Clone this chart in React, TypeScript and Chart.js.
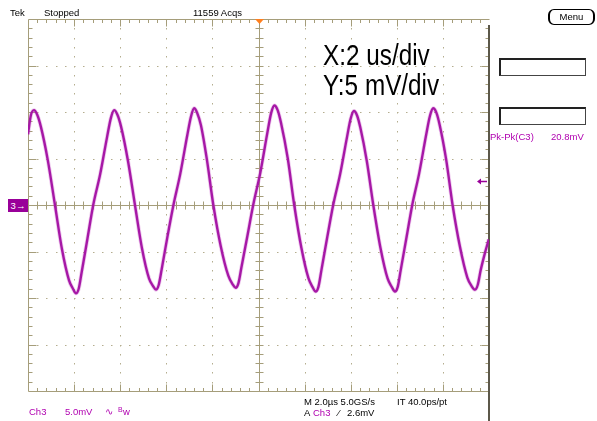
import React, { useEffect, useRef } from "react";
import { Chart, registerables } from "chart.js";

Chart.register(...registerables);

// Time axis (µs, trigger at 0) and Ch3 trace (mV)
const timeUs = [
  -10.0, -9.88, -9.74, -9.6, -9.44, -9.14, -8.83, -8.53, -8.22, -8.05, -7.92, -7.8, -7.67, -7.42, -7.17,
  -6.87, -6.57, -6.4, -6.26, -6.12, -5.96, -5.66, -5.36, -5.06, -4.75, -4.58, -4.45, -4.33, -4.2, -3.95, -3.69,
  -3.39, -3.09, -2.92, -2.79, -2.66, -2.5, -2.24, -1.96, -1.64, -1.31, -1.13, -0.99, -0.87, -0.74, -0.48, -0.23,
  0.08, 0.38, 0.55, 0.69, 0.83, 0.98, 1.27, 1.55, 1.86, 2.17, 2.34, 2.48, 2.6, 2.73, 2.98, 3.24,
  3.54, 3.84, 4.0, 4.14, 4.28, 4.42, 4.7, 4.98, 5.29, 5.6, 5.78, 5.92, 6.04, 6.17, 6.42, 6.67,
  6.97, 7.27, 7.44, 7.58, 7.72, 7.86, 8.14, 8.42, 8.74, 9.06, 9.24, 9.39, 9.51, 9.64, 9.82, 9.99,
];
const traceMv = [
  7.6, 9.6, 10.2, 9.7, 8.4, 4.8, 0.0, -4.7, -8.1, -9.0, -9.5, -9.0, -7.2, -3.6, 0.0,
  3.3, 7.3, 9.4, 10.2, 9.7, 8.4, 4.7, 0.0, -4.6, -7.9, -8.7, -9.1, -8.6, -6.9, -3.4, 0.0,
  3.4, 7.5, 9.6, 10.4, 9.9, 8.6, 4.9, 0.0, -4.4, -7.6, -8.5, -8.9, -8.4, -6.7, -3.3, 0.0,
  3.5, 7.7, 9.9, 10.7, 10.2, 8.8, 5.0, 0.0, -4.6, -7.9, -8.8, -9.3, -8.8, -7.0, -3.5, 0.0,
  3.3, 7.3, 9.3, 10.1, 9.6, 8.3, 4.7, 0.0, -4.6, -7.9, -8.8, -9.3, -8.8, -7.0, -3.5, 0.0,
  3.4, 7.5, 9.6, 10.4, 9.9, 8.6, 4.9, 0.0, -4.5, -7.8, -8.7, -9.1, -8.6, -7.0, -5.2, -3.7,
];

// Scope settings: 2 µs/div, 5 mV/div, 10 x 8 divisions
const timeRangeUs = [-10, 10];
const voltRangeMv = [-20, 20];
const timePerDivUs = 2;
const voltPerDivMv = 5;
const triggerTimeUs = 0;
const triggerLevelMv = 2.6;

const SUB = 5;
const TAN = "#a59d7a";
const DOT = "#b4ad8e";
const PURPLE = "#990099";
const TEXT_PURPLE = "#b000b0";

const graticulePlugin = {
  id: "graticule",
  beforeDatasetsDraw(chart: any) {
    const { ctx, chartArea: a, scales } = chart;
    const xs = scales.x;
    const ys = scales.y;
    const px = (v: number) => Math.round(xs.getPixelForValue(v)) + 0.5;
    const py = (v: number) => Math.round(ys.getPixelForValue(v)) + 0.5;
    const nX = Math.round((timeRangeUs[1] - timeRangeUs[0]) / timePerDivUs);
    const nY = Math.round((voltRangeMv[1] - voltRangeMv[0]) / voltPerDivMv);
    const xAt = (i: number) => timeRangeUs[0] + (i * timePerDivUs) / SUB;
    const yAt = (j: number) => voltRangeMv[0] + (j * voltPerDivMv) / SUB;
    ctx.save();

    // dotted division lines
    ctx.fillStyle = DOT;
    for (let d = 1; d < nX; d++) {
      if (d === nX / 2) continue;
      const x = px(timeRangeUs[0] + d * timePerDivUs);
      for (let j = 1; j < nY * SUB; j++) {
        ctx.fillRect(x - 0.5, py(yAt(j)) - 0.5, 1, 1.5);
      }
    }
    for (let d = 1; d < nY; d++) {
      if (d === nY / 2) continue;
      const y = py(voltRangeMv[0] + d * voltPerDivMv);
      for (let i = 1; i < nX * SUB; i++) {
        ctx.fillRect(px(xAt(i)) - 0.5, y - 0.5, 1.5, 1);
      }
    }

    ctx.strokeStyle = TAN;
    ctx.lineWidth = 1;
    const left = Math.round(a.left) + 0.5;
    const right = Math.round(a.right) + 0.5;
    const top = Math.round(a.top) + 0.5;
    const bottom = Math.round(a.bottom) + 0.5;
    const cx = px(triggerTimeUs);
    const cy = py(0);

    ctx.beginPath();
    ctx.moveTo(left, top); ctx.lineTo(right, top);
    ctx.moveTo(left, bottom); ctx.lineTo(right, bottom);
    ctx.moveTo(left, top); ctx.lineTo(left, bottom);
    ctx.moveTo(left, cy); ctx.lineTo(right, cy);
    ctx.moveTo(cx, top); ctx.lineTo(cx, bottom);

    for (let i = 1; i < nX * SUB; i++) {
      const x = px(xAt(i));
      const major = i % SUB === 0;
      const len = major ? 7 : 3.5;
      ctx.moveTo(x, top); ctx.lineTo(x, top + len);
      ctx.moveTo(x, bottom); ctx.lineTo(x, bottom - len);
      ctx.moveTo(x, cy - 4); ctx.lineTo(x, cy + 4);
    }
    for (let j = 1; j < nY * SUB; j++) {
      const y = py(yAt(j));
      const major = j % SUB === 0;
      const len = major ? 8 : 4;
      ctx.moveTo(left, y); ctx.lineTo(left + len, y);
      ctx.moveTo(right, y); ctx.lineTo(right - len, y);
      ctx.moveTo(cx - 4, y); ctx.lineTo(cx + 4, y);
    }
    ctx.stroke();

    // right border of the graticule
    ctx.strokeStyle = "#5c584a";
    ctx.lineWidth = 2;
    ctx.beginPath();
    ctx.moveTo(Math.round(a.right), a.top + 6);
    ctx.lineTo(Math.round(a.right), chart.height);
    ctx.stroke();

    // trigger position marker (orange)
    ctx.fillStyle = "#ff7f1e";
    ctx.beginPath();
    ctx.moveTo(cx - 4.5, a.top);
    ctx.lineTo(cx + 4.5, a.top);
    ctx.lineTo(cx, a.top + 5);
    ctx.closePath();
    ctx.fill();

    // trigger level marker (purple arrow on the right)
    const ty = py(triggerLevelMv);
    ctx.strokeStyle = PURPLE;
    ctx.fillStyle = PURPLE;
    ctx.lineWidth = 1.5;
    ctx.beginPath();
    ctx.moveTo(a.right - 9, ty);
    ctx.lineTo(a.right - 2, ty);
    ctx.stroke();
    ctx.beginPath();
    ctx.moveTo(a.right - 12, ty);
    ctx.lineTo(a.right - 8, ty - 3);
    ctx.lineTo(a.right - 8, ty + 3);
    ctx.closePath();
    ctx.fill();

    ctx.restore();
  },
};

const small: React.CSSProperties = {
  position: "absolute",
  fontFamily: "'Liberation Sans', Arial, sans-serif",
  fontSize: "9.5px",
  lineHeight: "10px",
  whiteSpace: "nowrap",
  color: "#000",
};

const big: React.CSSProperties = {
  position: "absolute",
  fontFamily: "'Liberation Sans', Arial, sans-serif",
  fontSize: "30px",
  lineHeight: "30px",
  whiteSpace: "nowrap",
  color: "#000",
  transform: "scaleX(0.81)",
  transformOrigin: "left top",
};

const boxStyle: React.CSSProperties = {
  position: "absolute",
  left: 499,
  width: 84,
  height: 15,
  background: "#fff",
  borderTop: "2px solid #222",
  borderLeft: "2px solid #222",
  borderBottom: "1px solid #444",
  borderRight: "1px solid #444",
};

export default function App() {
  const canvasRef = useRef<HTMLCanvasElement | null>(null);

  useEffect(() => {
    const canvas = canvasRef.current;
    if (!canvas) return;
    const points = timeUs.map((t, i) => ({ x: t, y: traceMv[i] }));
    const chart = new Chart(canvas, {
      type: "line",
      data: {
        datasets: [
          {
            data: points,
            borderColor: "rgba(200,80,200,0.3)",
            borderWidth: 4,
            pointRadius: 0,
            cubicInterpolationMode: "monotone",
            fill: false,
          },
          {
            data: points,
            borderColor: PURPLE,
            borderWidth: 2.4,
            pointRadius: 0,
            cubicInterpolationMode: "monotone",
            fill: false,
          },
        ],
      },
      options: {
        animation: false,
        responsive: false,
        devicePixelRatio: 1,
        layout: { padding: { left: 28, right: 108, top: 19, bottom: 30 } },
        plugins: { legend: { display: false }, tooltip: { enabled: false } },
        scales: {
          x: { type: "linear", min: timeRangeUs[0], max: timeRangeUs[1], display: false },
          y: { type: "linear", min: voltRangeMv[0], max: voltRangeMv[1], display: false },
        },
      },
      plugins: [graticulePlugin],
    } as any);
    return () => chart.destroy();
  }, []);

  return (
    <div style={{ position: "absolute", left: 0, top: 0, width: 597, height: 421, background: "#fff", overflow: "hidden" }}>
      <canvas ref={canvasRef} width={597} height={421} style={{ position: "absolute", left: 0, top: 0, width: 597, height: 421 }} />

      <span style={{ ...small, left: 10, top: 8 }}>Tek</span>
      <span style={{ ...small, left: 44, top: 8 }}>Stopped</span>
      <span style={{ ...small, left: 193, top: 8 }}>11559 Acqs</span>

      <div
        style={{
          position: "absolute",
          left: 548,
          top: 9,
          width: 43,
          height: 14,
          border: "1px solid #000",
          borderLeftWidth: 2,
          borderRightWidth: 2,
          borderRadius: 6,
          background: "#fff",
          fontFamily: "'Liberation Sans', Arial, sans-serif",
          fontSize: "9.5px",
          lineHeight: "14px",
          textAlign: "center",
        }}
      >
        Menu
      </div>

      <span style={{ ...big, left: 323, top: 40 }}>X:2 us/div</span>
      <span style={{ ...big, left: 323, top: 70 }}>Y:5 mV/div</span>

      <div style={{ ...boxStyle, top: 58 }} />
      <div style={{ ...boxStyle, top: 107 }} />
      <span style={{ ...small, left: 490, top: 132, color: TEXT_PURPLE }}>Pk-Pk(C3)</span>
      <span style={{ ...small, left: 551, top: 132, color: TEXT_PURPLE }}>20.8mV</span>

      <div
        style={{
          position: "absolute",
          left: 8,
          top: 199,
          width: 20,
          height: 13,
          background: "#990099",
          color: "#fff",
          fontFamily: "'Liberation Sans', Arial, sans-serif",
          fontSize: "9.5px",
          lineHeight: "13px",
          textAlign: "center",
        }}
      >
        3→
      </div>

      <span style={{ ...small, left: 29, top: 407, color: TEXT_PURPLE }}>Ch3</span>
      <span style={{ ...small, left: 65, top: 407, color: TEXT_PURPLE }}>5.0mV</span>
      <span style={{ ...small, left: 105, top: 407, color: TEXT_PURPLE }}>∿</span>
      <span style={{ ...small, left: 118, top: 405, color: TEXT_PURPLE, fontSize: "7px" }}>B</span>
      <span style={{ ...small, left: 123, top: 407, color: TEXT_PURPLE }}>w</span>

      <span style={{ ...small, left: 304, top: 397 }}>M 2.0µs 5.0GS/s</span>
      <span style={{ ...small, left: 397, top: 397 }}>IT 40.0ps/pt</span>
      <span style={{ ...small, left: 304, top: 408 }}>A</span>
      <span style={{ ...small, left: 313, top: 408, color: TEXT_PURPLE }}>Ch3</span>
      <span style={{ ...small, left: 338, top: 408 }}>⁄</span>
      <span style={{ ...small, left: 347, top: 408 }}>2.6mV</span>
    </div>
  );
}
